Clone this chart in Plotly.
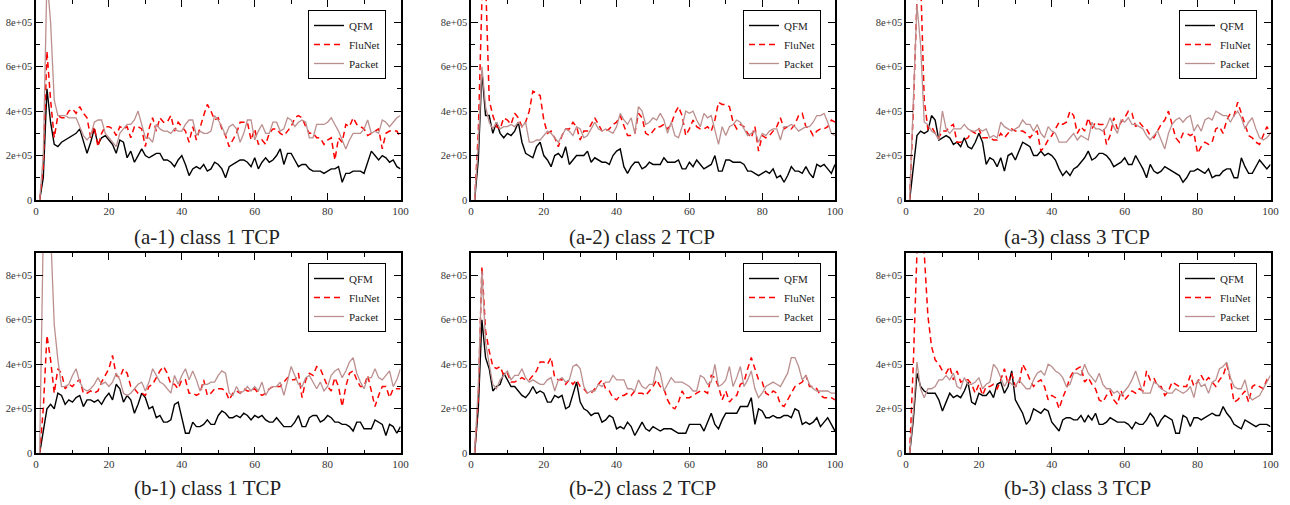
import plotly.graph_objects as go

x = list(range(1, 101))
SCALE = 1e4  # values below are in units of 1e4

a1_qfm = [0,10,50,35,25,24,26,27,28,29,30,32,27,21,26,32,25,28,29,27,25,21,27,26,19,22,17,20,23,20,19,20,21,21,18,18,17,15,18,20,16,11,14,15,14,16,13,14,17,16,14,10,15,16,17,18,18,17,15,19,14,17,19,17,18,20,23,16,21,21,18,15,16,16,14,13,13,13,12,13,14,14,15,8,12,12,13,13,13,12,17,22,20,18,20,19,17,18,15,14]
a1_flu = [0,15,67,45,28,38,37,37,40,41,39,42,39,37,28,33,24,30,33,33,32,29,33,32,33,28,33,33,32,24,32,37,31,37,35,35,38,31,35,33,31,26,33,27,33,38,43,40,36,37,32,29,24,27,30,35,35,35,27,32,25,27,25,30,32,32,30,29,31,33,37,38,37,33,30,30,28,28,25,27,28,18,28,26,34,33,37,34,33,32,29,30,31,32,23,30,31,31,31,28]
a1_pkt = [0,20,100,80,45,38,38,38,37,37,37,33,29,27,29,35,36,36,30,28,26,24,30,32,34,34,36,40,34,28,28,26,34,32,31,31,30,32,31,31,34,36,36,29,31,30,30,31,38,36,33,29,33,34,32,26,30,36,36,27,31,34,30,30,35,35,31,32,37,36,33,35,36,35,28,28,34,34,34,35,37,34,31,27,23,27,30,30,30,32,36,30,31,30,36,35,33,35,37,38]

a2_qfm = [0,18,58,38,38,30,35,30,28,30,29,31,35,26,21,20,19,24,26,20,18,15,20,21,19,24,16,18,20,20,20,22,17,19,18,17,17,16,20,22,23,15,12,15,17,17,14,15,17,16,16,16,19,17,17,17,18,14,14,17,15,18,16,14,15,16,20,13,13,18,18,17,17,17,16,13,13,12,11,12,13,12,14,10,11,8,11,15,13,13,12,15,12,10,16,15,16,14,12,16]
a2_flu = [0,30,90,100,45,38,33,32,37,36,34,39,37,33,35,40,49,48,47,36,30,31,28,24,29,32,32,35,33,27,31,31,34,37,34,31,31,32,34,35,38,33,29,29,30,39,37,30,29,31,33,33,34,32,34,39,42,38,29,32,36,33,32,32,33,31,36,44,43,43,42,35,32,34,33,30,28,33,22,29,28,29,31,33,37,32,33,32,34,38,39,33,32,29,31,32,32,33,36,35]
a2_pkt = [0,25,60,42,35,32,35,32,33,33,34,33,35,33,35,26,26,27,27,29,31,30,28,26,29,32,31,29,33,32,28,29,32,35,32,31,32,31,30,33,39,36,34,37,30,42,40,34,35,37,36,39,36,30,35,29,28,33,40,39,40,36,33,39,37,38,31,25,33,29,33,34,36,35,32,29,30,31,26,30,29,31,32,32,27,33,33,34,33,31,32,33,33,35,38,38,39,35,30,29]

a3_qfm = [0,15,29,31,30,31,38,36,27,28,29,28,25,26,24,28,24,23,26,30,26,16,19,18,15,19,13,20,21,18,22,26,25,24,20,20,22,20,21,20,18,14,11,13,11,14,15,17,19,22,18,19,21,21,20,18,15,16,17,19,16,16,20,17,14,10,16,13,12,13,15,14,13,12,11,8,10,13,13,14,13,12,14,10,11,11,13,14,14,10,10,19,15,12,12,15,18,16,14,16]
a3_flu = [0,40,90,100,45,32,33,30,28,31,31,33,34,26,26,27,28,31,30,32,28,28,28,27,27,30,28,30,32,31,31,31,30,28,30,31,22,24,27,29,32,35,34,35,40,38,30,33,31,37,32,35,34,34,25,29,37,32,35,37,40,39,33,35,33,32,29,28,31,34,36,40,34,28,26,30,30,29,30,21,24,26,25,26,32,33,30,36,39,38,44,39,33,29,28,26,25,29,33,30]
a3_pkt = [0,40,88,70,35,34,31,30,27,40,32,30,32,32,32,34,32,31,31,32,31,32,28,29,28,35,33,32,31,32,33,36,34,34,31,34,30,28,33,31,30,26,26,26,28,30,27,29,28,27,35,32,32,31,33,37,33,30,36,35,37,34,34,33,32,29,27,29,31,27,23,30,34,36,37,35,37,38,31,34,31,36,37,36,40,39,38,38,35,38,40,37,32,35,37,32,28,27,28,30]

b1_qfm = [0,10,20,22,20,27,26,22,24,23,25,26,21,24,24,23,24,22,25,27,24,31,29,23,26,24,18,22,27,25,20,21,16,17,14,14,15,22,23,16,9,9,14,12,12,13,15,13,13,17,19,18,16,16,17,16,18,17,15,17,16,17,15,14,14,16,14,12,12,12,14,17,12,12,16,17,17,14,15,17,16,14,14,13,13,12,10,14,14,11,11,11,15,14,13,8,13,12,9,12]
b1_flu = [0,20,53,42,27,38,36,29,31,30,32,33,27,27,28,27,28,32,35,38,44,35,34,38,36,30,29,27,27,26,30,31,34,37,39,36,31,31,29,33,33,27,27,26,27,33,26,27,29,29,29,28,24,27,28,27,29,28,28,29,27,26,27,29,30,30,30,32,34,33,33,36,25,33,36,35,39,38,34,30,28,34,30,21,30,36,37,33,30,30,35,28,21,26,30,30,25,29,29,29]
b1_pkt = [0,100,100,100,58,42,30,30,31,35,38,32,29,28,29,31,34,31,32,30,32,36,33,27,26,27,29,31,32,28,32,38,35,32,31,29,27,35,31,35,38,33,37,33,28,31,31,32,32,35,37,36,27,26,30,27,28,30,28,30,28,32,26,29,30,30,32,26,33,39,35,31,30,34,35,32,29,32,28,30,35,37,38,34,37,41,43,36,32,29,34,34,38,34,33,35,37,30,33,38]

b2_qfm = [0,20,60,43,38,28,30,31,36,33,30,30,28,26,25,27,30,27,28,27,23,23,26,25,26,20,21,27,32,23,20,19,17,18,18,14,15,17,16,11,12,11,14,12,8,11,14,11,10,12,11,10,11,11,11,10,9,9,9,13,13,13,13,10,14,18,13,11,15,18,18,18,18,21,21,21,25,13,20,19,16,16,17,16,16,17,17,16,20,19,13,14,13,14,16,12,14,16,13,10]
b2_flu = [0,25,84,55,46,39,38,39,35,36,32,32,33,34,33,33,35,37,41,41,40,43,34,33,33,31,33,31,33,30,29,27,27,29,31,33,29,28,25,24,26,26,27,26,28,27,27,26,28,30,33,30,29,24,21,20,23,28,25,25,26,27,28,28,27,35,34,30,24,28,23,25,26,31,32,38,43,38,33,32,27,26,28,27,22,21,24,27,30,31,32,35,30,30,29,26,25,25,25,24]
b2_pkt = [0,30,82,50,40,31,29,33,35,37,33,35,35,38,34,32,33,32,31,31,33,34,28,33,34,32,33,39,40,38,30,27,28,28,31,30,32,32,35,33,33,33,29,29,28,33,30,29,31,31,39,36,28,31,34,32,32,32,31,30,28,28,35,34,31,32,40,30,31,33,39,30,34,39,30,33,37,29,25,27,30,31,32,31,30,33,36,43,43,39,33,35,31,29,28,28,28,28,27,27]

b3_qfm = [0,15,36,30,28,27,27,27,24,19,23,27,25,26,25,28,32,23,22,27,26,26,28,25,31,32,27,30,37,24,21,18,13,15,20,19,18,20,19,14,12,10,15,16,16,15,15,17,14,17,15,18,13,13,14,16,15,14,14,14,13,11,14,13,13,15,18,16,12,15,17,16,15,9,9,17,16,12,16,16,15,16,17,18,17,17,21,18,16,13,12,11,15,14,13,12,13,13,13,12]
b3_flu = [0,40,90,100,90,62,48,42,40,37,36,39,33,37,32,33,33,31,27,31,26,30,30,31,29,33,38,31,36,30,31,40,37,33,30,32,33,30,24,26,25,20,25,29,34,37,38,39,32,34,31,29,24,23,26,28,24,22,28,24,26,28,27,29,28,37,33,34,30,30,26,28,32,31,30,30,30,35,30,32,35,32,34,32,30,33,35,40,33,23,24,26,28,23,30,31,30,29,33,31]
b3_pkt = [0,18,41,29,25,29,29,30,33,33,35,33,36,30,29,34,31,31,32,34,29,31,32,40,38,34,30,33,31,30,33,31,29,29,33,36,37,35,40,39,37,36,34,30,31,36,36,35,40,36,34,32,36,31,29,29,27,28,26,28,30,33,37,32,27,27,27,32,31,29,28,27,27,29,28,27,28,30,25,33,30,31,27,32,33,38,39,41,34,30,29,29,33,26,24,25,26,29,32,35]

panels = [
    ("(a-1) class 1 TCP", a1_qfm, a1_flu, a1_pkt),
    ("(a-2) class 2 TCP", a2_qfm, a2_flu, a2_pkt),
    ("(a-3) class 3 TCP", a3_qfm, a3_flu, a3_pkt),
    ("(b-1) class 1 TCP", b1_qfm, b1_flu, b1_pkt),
    ("(b-2) class 2 TCP", b2_qfm, b2_flu, b2_pkt),
    ("(b-3) class 3 TCP", b3_qfm, b3_flu, b3_pkt),
]
series_names = ["QFM", "FluNet", "Packet"]
y_tickvals = [0, 2e5, 4e5, 6e5, 8e5]
y_ticktext = ["0", "2e+05", "4e+05", "6e+05", "8e+05"]

W, H = 1290, 505
col_px = [(36, 400.5), (471, 835), (906, 1270.5)]
row_px = [(0, 200), (253, 453.3)]
legend_right_px = [386, 821, 1257]
legend_top_px = [10, 263]
caption_y_px = [237, 488]

SERIF = "Liberation Serif, Times New Roman, serif"

fig = go.Figure()
layout = dict(
    template="none",
    width=W, height=H, margin=dict(l=0, r=0, t=0, b=0, pad=0, autoexpand=False),
    paper_bgcolor="white", plot_bgcolor="white",
    font=dict(family=SERIF, color="#222"),
    annotations=[],
)

styles = [
    dict(color="black", width=1.4),
    dict(color="#ff0000", width=1.5, dash="6px,4px"),
    dict(color="#bc8f8f", width=1.3),
]

for i, (cap, q, f, p) in enumerate(panels):
    r, c = divmod(i, 3)
    k = i + 1
    xa = "xaxis" if k == 1 else f"xaxis{k}"
    ya = "yaxis" if k == 1 else f"yaxis{k}"
    xr = "x" if k == 1 else f"x{k}"
    yr = "y" if k == 1 else f"y{k}"
    lg = "legend" if k == 1 else f"legend{k}"
    x0, x1 = col_px[c]
    y0, y1 = row_px[r]
    for name, vals, st in zip(series_names, (q, f, p), styles):
        fig.add_trace(go.Scatter(
            x=x, y=[v * SCALE for v in vals], mode="lines", name=name,
            line=st, xaxis=xr, yaxis=yr, legend=lg, showlegend=True,
        ))
    common = dict(showline=True, linecolor="black", linewidth=1.5, mirror="allticks",
                  ticks="inside", ticklen=7, tickwidth=1, tickcolor="black",
                  showgrid=False, zeroline=False, automargin=False)
    layout[xa] = dict(domain=[x0 / W, x1 / W], anchor=yr, range=[0, 100],
                      tickvals=[0, 20, 40, 60, 80, 100],
                      tickfont=dict(family=SERIF, size=11, color="#333"),
                      minor=dict(dtick=10, tick0=0, ticks="inside", ticklen=4, tickcolor="black"),
                      **common)
    layout[ya] = dict(domain=[1 - y1 / H, 1 - y0 / H], anchor=xr, range=[0, 9e5],
                      tickvals=y_tickvals, ticktext=y_ticktext,
                      tickfont=dict(family=SERIF, size=10.5, color="#333"),
                      minor=dict(dtick=1e5, tick0=0, ticks="inside", ticklen=4, tickcolor="black"),
                      **common)
    layout[lg] = dict(x=legend_right_px[c] / W, y=1 - legend_top_px[r] / H,
                      xanchor="right", yanchor="top", xref="paper", yref="paper",
                      bgcolor="white", bordercolor="black", borderwidth=1,
                      font=dict(family=SERIF, size=11, color="#222"),
                      tracegroupgap=0, itemwidth=30)
    layout["annotations"].append(dict(
        text=cap, xref="paper", yref="paper", showarrow=False,
        x=((x0 + x1) / 2 - 11) / W, y=1 - caption_y_px[r] / H,
        xanchor="center", yanchor="middle",
        font=dict(family=SERIF, size=21, color="#222"),
    ))

fig.update_layout(**layout)
fig.write_html("out.html", config={"displayModeBar": False},
               post_script="document.body.style.margin='0';document.body.style.overflow='hidden';")
